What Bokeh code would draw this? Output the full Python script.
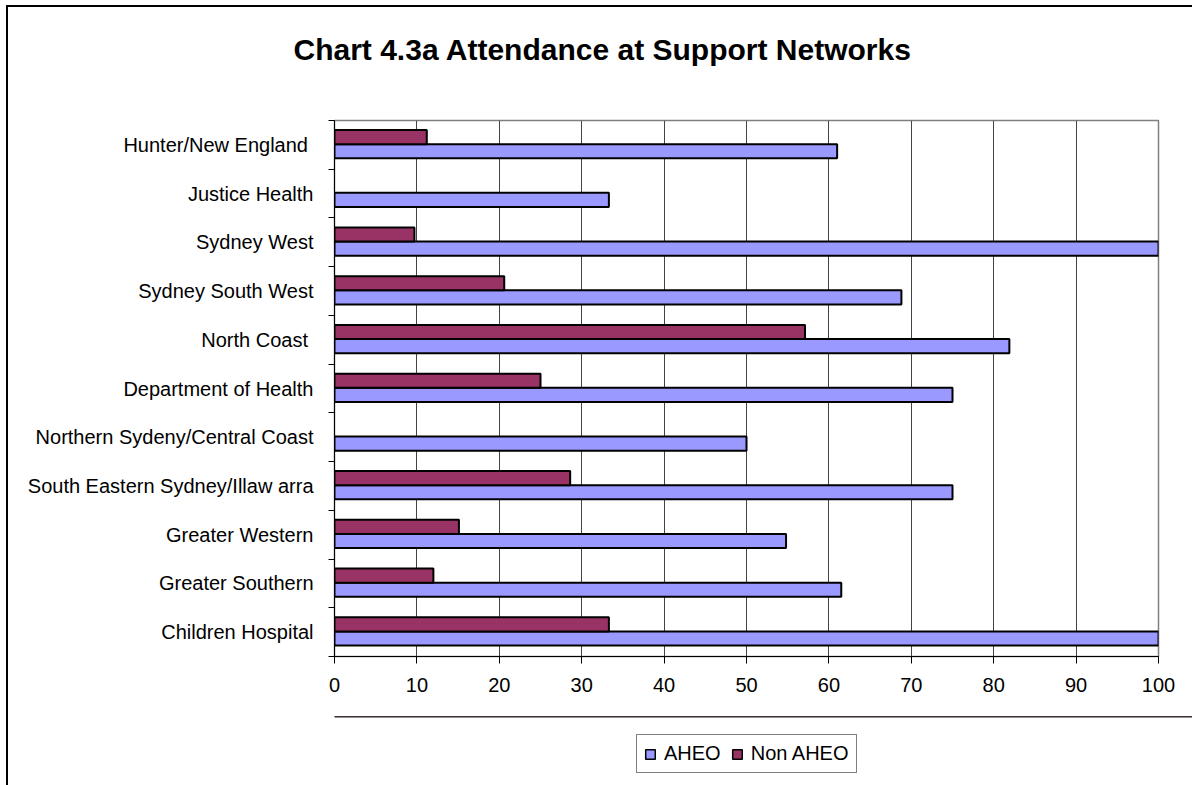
from bokeh.plotting import figure
from bokeh.layouts import column
from bokeh.models import (ColumnDataSource, FixedTicker, Legend, LegendItem,
                          Range1d, Title)
from bokeh.embed import file_html
from bokeh.resources import INLINE

# Regions listed bottom-to-top, as they appear on the vertical axis
categories = [
    "Children Hospital",
    "Greater Southern",
    "Greater Western",
    "South Eastern Sydney/Illaw arra",
    "Northern Sydeny/Central Coast",
    "Department of Health",
    "North Coast ",
    "Sydney South West",
    "Sydney West",
    "Justice Health",
    "Hunter/New  England",
]
aheo = [100, 61.5, 54.8, 75, 50, 75, 81.9, 68.8, 100, 33.3, 61.0]
non_aheo = [33.3, 12.0, 15.1, 28.6, 0, 25, 57.1, 20.6, 9.7, 0, 11.2]
x_ticks = [0, 10, 20, 30, 40, 50, 60, 70, 80, 90, 100]
series_names = ["AHEO", "Non AHEO"]
TITLE = "Chart 4.3a Attendance at Support Networks"

FONT = "Liberation Sans"
BLUE = "#9999FF"
MAROON = "#993366"

centers = [i + 0.5 for i in range(len(categories))]
src_aheo = ColumnDataSource(dict(y=[c - 0.13 for c in centers], v=aheo))
keep = [i for i, v in enumerate(non_aheo) if v > 0]
src_non = ColumnDataSource(dict(y=[centers[i] + 0.16 for i in keep],
                                v=[non_aheo[i] for i in keep]))

p = figure(frame_width=824, frame_height=536,
           min_border_left=326, min_border_right=34,
           min_border_top=113, min_border_bottom=60,
           x_range=Range1d(0, 100), y_range=Range1d(0, len(categories)),
           output_backend="svg", toolbar_location=None, tools="")

# heading: a blank spacer line next to the frame, the real heading above it
p.title.text = ""
p.add_layout(Title(text=" ", text_font_size="10px", standoff=42), "above")
p.add_layout(Title(text=TITLE, text_font=FONT, text_font_style="bold",
                   text_font_size="30px", text_color="black",
                   align="left", offset=-41, standoff=0), "above")

p.hbar(y="y", left=0, right="v", height=0.29, source=src_aheo,
       fill_color=BLUE, line_color="black", line_width=2)
p.hbar(y="y", left=0, right="v", height=0.29, source=src_non,
       fill_color=MAROON, line_color="black", line_width=2)

# value axis
xa = p.xaxis[0]
xa.ticker = FixedTicker(ticks=x_ticks)
xa.axis_line_color = "black"
xa.major_tick_line_color = "black"
xa.major_tick_out = 7
xa.major_tick_in = 0
xa.minor_tick_line_color = None
xa.major_label_text_font = FONT
xa.major_label_text_font_size = "20px"
xa.major_label_text_color = "black"
xa.major_label_standoff = 14

# category axis: labels at band centres, ticks at band boundaries
ya = p.yaxis[0]
ya.ticker = FixedTicker(ticks=centers, minor_ticks=list(range(len(categories) + 1)))
ya.major_label_overrides = {c: name for c, name in zip(centers, categories)}
ya.axis_line_color = "black"
ya.major_tick_line_color = None
ya.major_tick_out = 0
ya.major_tick_in = 0
ya.minor_tick_line_color = "black"
ya.minor_tick_out = 6
ya.minor_tick_in = 0
ya.major_label_text_font = FONT
ya.major_label_text_font_size = "20px"
ya.major_label_text_color = "black"
ya.major_label_standoff = 15

p.xgrid.grid_line_color = "#444444"
p.xgrid.ticker = FixedTicker(ticks=x_ticks)
p.ygrid.grid_line_color = None
p.outline_line_color = "#808080"
p.outline_line_width = 1.5

# legend strip underneath the chart; its swatch renderers sit outside the
# strip's visible range so only their legend entries show
key = figure(frame_width=1184, frame_height=69, min_border=0,
             x_range=Range1d(0, 1), y_range=Range1d(0, 1),
             x_axis_type=None, y_axis_type=None,
             output_backend="svg", toolbar_location=None, tools="")
key.outline_line_color = None
swatches = [key.hbar(y=[5], left=[0], right=[1], height=0.2, fill_color=c,
                     line_color="black", line_width=1.5)
            for c in (BLUE, MAROON)]
legend = Legend(items=[LegendItem(label=n, renderers=[r])
                       for n, r in zip(series_names, swatches)],
                orientation="horizontal", location=(628, 12),
                border_line_color="black", border_line_width=1.5,
                glyph_width=12, glyph_height=12, label_standoff=8,
                spacing=10, padding=7, margin=0,
                label_text_font=FONT, label_text_font_size="20px",
                label_text_color="black")
key.add_layout(legend, "center")

page = column(p, key, spacing=0,
              styles={"margin-left": "6px", "margin-top": "5px",
                      "border-left": "2px solid black",
                      "border-top": "2px solid black"})

open("out.html", "w").write(file_html(page, INLINE))
